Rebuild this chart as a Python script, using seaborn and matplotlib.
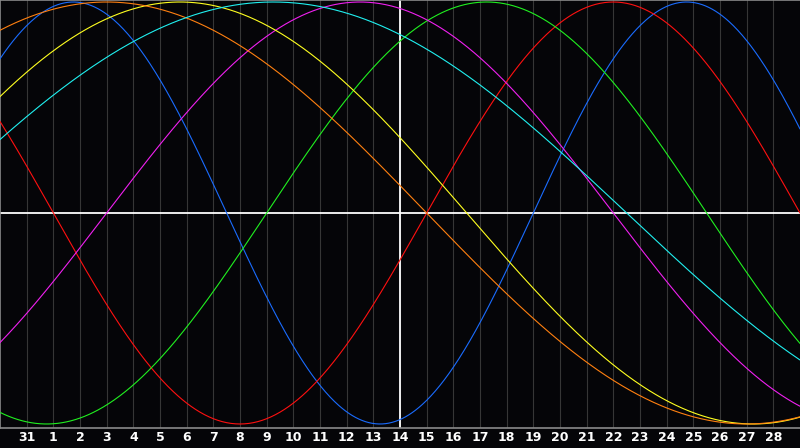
import numpy as np
import pandas as pd
import matplotlib
matplotlib.use("Agg")
import matplotlib.pyplot as plt
import seaborn as sns

# biorhythm cycles
cycle_names = ["Physical", "Emotional", "Intellectual", "Intuitive",
               "Aesthetic", "Awareness", "Spiritual"]
cycle_periods = [23, 28, 33, 38, 43, 48, 53]
cycle_colors = ["#1a6cff", "#ff1010", "#20f020", "#f020f0",
                "#ffff20", "#ff8010", "#20f0f0"]

# days since birth on the marked day (white line)
days_alive_today = 28055
today_index = 15

day_labels = ["31", "1", "2", "3", "4", "5", "6", "7", "8", "9", "10",
              "11", "12", "13", "14", "15", "16", "17", "18", "19", "20",
              "21", "22", "23", "24", "25", "26", "27", "28"]

bg = "#050508"

# build a long table: one row per sample of each cycle
t = np.linspace(0, len(day_labels) + 1, 721)
rows = []
for name, period in zip(cycle_names, cycle_periods):
    vals = np.sin(2 * np.pi * (days_alive_today + t - today_index) / period)
    rows.append(pd.DataFrame({"day": t, "value": vals, "cycle": name}))
df = pd.concat(rows, ignore_index=True)

sns.set_style("dark")
plt.rcParams["font.family"] = ["DejaVu Sans"]

fig = plt.figure(figsize=(8, 4.48), dpi=100, facecolor=bg)
ax = fig.add_axes([0, 20 / 448, 1, 428 / 448])
ax.set_facecolor(bg)

# day grid
for i in range(1, len(day_labels) + 1):
    ax.axvline(i, color="#363636", lw=0.8, zorder=1)

ax.axhline(0, color="white", lw=1.3, zorder=2)
ax.axvline(today_index, color="white", lw=1.3, zorder=2)

sns.lineplot(data=df, x="day", y="value", hue="cycle", hue_order=cycle_names,
             palette=dict(zip(cycle_names, cycle_colors)), linewidth=0.8,
             legend=False, sort=False, estimator=None, ax=ax, zorder=3)

ax.set_xlim(0, len(day_labels) + 1)
ax.set_ylim(-1.019, 1.0095)
ax.set_xlabel("")
ax.set_ylabel("")
ax.set_yticks([])
ax.set_xticks(range(1, len(day_labels) + 1))
ax.set_xticklabels(day_labels, color="white", fontsize=9, fontweight="bold")
ax.tick_params(axis="x", length=0, pad=2.5)
ax.grid(False)

for side in ["left", "top", "bottom"]:
    ax.spines[side].set_visible(True)
    ax.spines[side].set_color("#8a8a8a")
    ax.spines[side].set_linewidth(1.2)
ax.spines["right"].set_visible(False)

fig.savefig("out.png", dpi=100, facecolor=bg)
